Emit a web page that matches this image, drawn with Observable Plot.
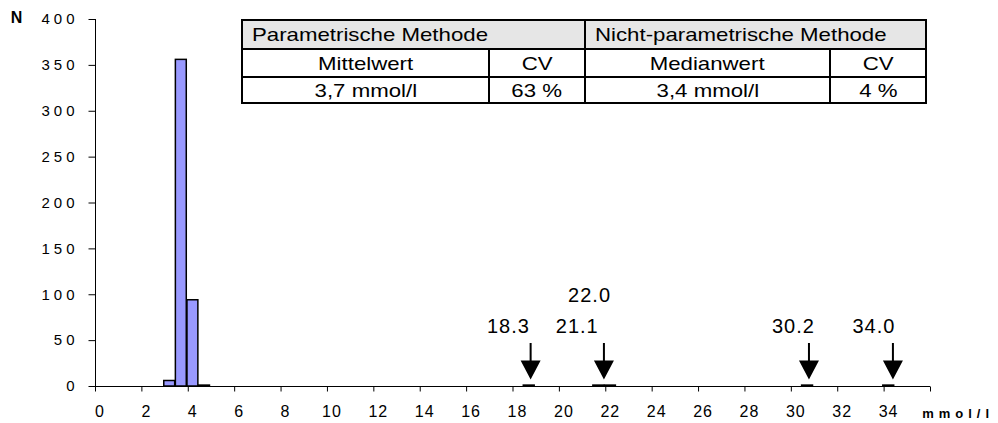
<!DOCTYPE html>
<html>
<head>
<meta charset="utf-8">
<script src="https://cdn.jsdelivr.net/npm/d3@7"></script>
<script src="https://cdn.jsdelivr.net/npm/@observablehq/plot@0.6"></script>
<style>
  body { margin: 0; background: #fff; }
  #wrap { position: relative; width: 998px; height: 423px; font-family: "Liberation Sans", Arial, sans-serif; }
  #tbl { position: absolute; left: 241px; top: 19px; border-collapse: collapse; table-layout: fixed; width: 684px;
         font-family: "Liberation Sans", Arial, sans-serif; font-size: 19px; color: #000; }
  #tbl td { border: 2px solid #000; padding: 0; text-align: center; vertical-align: middle; white-space: nowrap; overflow: visible; line-height: 1; }
  #tbl td span { display: inline-block; transform: scaleX(1.17); transform-origin: center; }
  #tbl tr.head td { background: #e6e6e6; text-align: left; padding-left: 9px; }
  #tbl tr.head td span { transform-origin: left center; }
</style>
</head>
<body>
<div id="wrap"></div>
<script>
// ---- data ----
const binCenters = [3.2, 3.7, 4.2, 4.7, 18.7, 21.7, 22.2, 30.7, 34.2];
const binCounts  = [6, 356, 94, 1, 1, 1, 1, 1, 1];

const arrowX = [18.76, 21.92, 30.76, 34.38];

const outlierLabels = ["18.3", "21.1", "22.0", "30.2", "34.0"];
const outlierLabelX = [17.8, 20.77, 21.3, 30.09, 33.56];
const outlierLabelY = [65, 65, 99, 65, 65];

const xTicks = [0, 2, 4, 6, 8, 10, 12, 14, 16, 18, 20, 22, 24, 26, 28, 30, 32, 34, 36];
const xTickLabels = ["0", "2", "4", "6", "8", "10", "12", "14", "16", "18", "20", "22", "24", "26", "28", "30", "32", "34", ""];
const yTicks = [0, 50, 100, 150, 200, 250, 300, 350, 400];
const yTickLabels = ["0", "50", "100", "150", "200", "250", "300", "350", "400"];

const tableHeader = ["Parametrische Methode", "Nicht-parametrische Methode"];
const tableSubHeader = ["Mittelwert", "CV", "Medianwert", "CV"];
const tableValues = ["3,7 mmol/l", "63 %", "3,4 mmol/l", "4 %"];

const yAxisTitle = "N";
const xAxisTitle = "mmol/l";

// ---- build ----
const bars = binCenters.map((c, i) => ({x: c, n: binCounts[i]}));
const outliers = outlierLabels.map((t, i) => ({t, x: outlierLabelX[i], y: outlierLabelY[i]}));

const barHalf = 0.235;

const xTickSymbol = { draw(ctx) { ctx.moveTo(0, 0); ctx.lineTo(0, 5); } };
const yTickSymbol = { draw(ctx) { ctx.moveTo(0, 0); ctx.lineTo(-7, 0); } };
const arrowSymbol = { draw(ctx) {
  ctx.moveTo(-1, -36.5); ctx.lineTo(1, -36.5); ctx.lineTo(1, -19); ctx.lineTo(10, -19);
  ctx.lineTo(0, 0); ctx.lineTo(-10, -19); ctx.lineTo(-1, -19); ctx.closePath();
} };

const chart = Plot.plot({
  width: 998,
  height: 423,
  marginLeft: 95,
  marginRight: 68,
  marginTop: 19,
  marginBottom: 37,
  x: {domain: [0, 36], axis: null},
  y: {domain: [0, 400], axis: null},
  style: {fontFamily: '"Liberation Sans", Arial, sans-serif', background: "white", color: "black"},
  marks: [
    Plot.rect(bars, {x1: d => d.x - barHalf, x2: d => d.x + barHalf, y1: 0, y2: "n",
      fill: "#9999ff", stroke: "#000", strokeWidth: 1.5}),
    Plot.ruleX([0], {y1: 0, y2: 400, stroke: "#000"}),
    Plot.ruleY([0], {x1: 0, x2: 36, stroke: "#000"}),
    Plot.dot(yTicks, {x: 0, y: d => d, symbol: yTickSymbol, stroke: "#000", fill: "none", strokeWidth: 1}),
    Plot.dot(xTicks, {x: d => d, y: 0, symbol: xTickSymbol, stroke: "#000", fill: "none", strokeWidth: 1}),
    Plot.text(yTicks, {x: 0, y: d => d, text: (d, i) => yTickLabels[i], textAnchor: "end", dx: -17,
      fontSize: 15, fill: "#000"}),
    Plot.text(xTicks, {x: d => d, y: 0, text: (d, i) => xTickLabels[i], textAnchor: "middle", dx: 4.5, dy: 25,
      fontSize: 16, fill: "#000"}),
    Plot.text([yAxisTitle], {x: 0, y: 400, text: d => d, dx: -79, dy: -1.5, fontSize: 16, fontWeight: "bold",
      fill: "#000"}),
    Plot.text([xAxisTitle], {x: 36, y: 0, text: d => d, textAnchor: "start", dx: -8.3, dy: 27, fontSize: 13,
      fontWeight: "bold", fill: "#000"}),
    Plot.dot(arrowX, {x: d => d, y: 0, dy: -7, symbol: arrowSymbol, fill: "#000", stroke: "none"}),
    Plot.text(outliers, {x: "x", y: "y", text: "t", fontSize: 20, fill: "#000"})
  ]
});

const wrap = document.getElementById("wrap");
wrap.appendChild(chart);

// letter spacing per text mark (in mark order: y ticks, x ticks, N, unit, outlier labels)
const textGroups = chart.querySelectorAll('g[aria-label="text"]');
const spacings = [4, 1, 0, 5, 1];
textGroups.forEach((g, i) => {
  const ls = spacings[i] || 0;
  g.querySelectorAll("text").forEach(t => t.style.letterSpacing = ls + "px");
});

// statistics table overlay
const tbl = document.createElement("table");
tbl.id = "tbl";
const cg = document.createElement("colgroup");
[247, 96, 245, 96].forEach(w => { const c = document.createElement("col"); c.style.width = w + "px"; cg.appendChild(c); });
tbl.appendChild(cg);
const mkRow = (cells, cls, h, span) => {
  const tr = document.createElement("tr");
  if (cls) tr.className = cls;
  tr.style.height = h + "px";
  cells.forEach(t => {
    const td = document.createElement("td");
    if (span) td.colSpan = span;
    const s = document.createElement("span");
    s.textContent = t;
    td.appendChild(s);
    tr.appendChild(td);
  });
  tbl.appendChild(tr);
};
mkRow(tableHeader, "head", 29, 2);
mkRow(tableSubHeader, "", 28, 0);
mkRow(tableValues, "", 26, 0);
wrap.appendChild(tbl);
</script>
</body>
</html>
